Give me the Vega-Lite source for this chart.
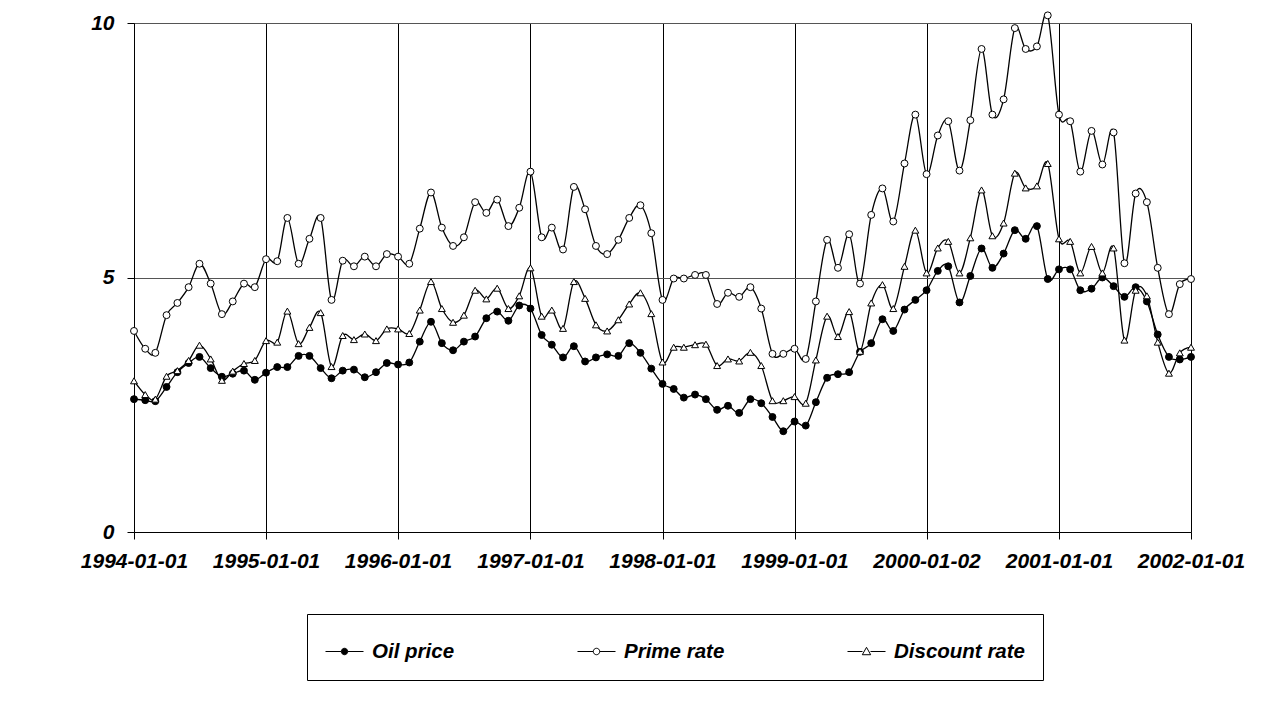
{
  "$schema": "https://vega.github.io/schema/vega-lite/v6.json",
  "width": 1057,
  "height": 509,
  "autosize": {"type": "none"},
  "padding": {"left": 134, "top": 23, "right": 83, "bottom": 190},
  "background": "white",
  "config": {"view": {"stroke": null}, "font": "Liberation Sans"},
  "data": {"values": [
    {"date": "1994-01-01", "Oil price": 2.61, "Prime rate": 3.95, "Discount rate": 2.97},
    {"date": "1994-02-01", "Oil price": 2.59, "Prime rate": 3.60, "Discount rate": 2.70},
    {"date": "1994-03-01", "Oil price": 2.57, "Prime rate": 3.52, "Discount rate": 2.61},
    {"date": "1994-04-01", "Oil price": 2.85, "Prime rate": 4.26, "Discount rate": 3.06},
    {"date": "1994-05-01", "Oil price": 3.14, "Prime rate": 4.50, "Discount rate": 3.17},
    {"date": "1994-06-01", "Oil price": 3.32, "Prime rate": 4.81, "Discount rate": 3.37},
    {"date": "1994-07-01", "Oil price": 3.44, "Prime rate": 5.27, "Discount rate": 3.67},
    {"date": "1994-08-01", "Oil price": 3.22, "Prime rate": 4.88, "Discount rate": 3.40},
    {"date": "1994-09-01", "Oil price": 3.05, "Prime rate": 4.28, "Discount rate": 2.98},
    {"date": "1994-10-01", "Oil price": 3.11, "Prime rate": 4.53, "Discount rate": 3.16},
    {"date": "1994-11-01", "Oil price": 3.17, "Prime rate": 4.88, "Discount rate": 3.31},
    {"date": "1994-12-01", "Oil price": 2.99, "Prime rate": 4.81, "Discount rate": 3.37},
    {"date": "1995-01-01", "Oil price": 3.13, "Prime rate": 5.36, "Discount rate": 3.76},
    {"date": "1995-02-01", "Oil price": 3.24, "Prime rate": 5.32, "Discount rate": 3.73},
    {"date": "1995-03-01", "Oil price": 3.24, "Prime rate": 6.17, "Discount rate": 4.34},
    {"date": "1995-04-01", "Oil price": 3.46, "Prime rate": 5.27, "Discount rate": 3.70},
    {"date": "1995-05-01", "Oil price": 3.46, "Prime rate": 5.76, "Discount rate": 4.02},
    {"date": "1995-06-01", "Oil price": 3.22, "Prime rate": 6.17, "Discount rate": 4.31},
    {"date": "1995-07-01", "Oil price": 3.02, "Prime rate": 4.56, "Discount rate": 3.25},
    {"date": "1995-08-01", "Oil price": 3.17, "Prime rate": 5.33, "Discount rate": 3.86},
    {"date": "1995-09-01", "Oil price": 3.19, "Prime rate": 5.22, "Discount rate": 3.78},
    {"date": "1995-10-01", "Oil price": 3.04, "Prime rate": 5.41, "Discount rate": 3.89},
    {"date": "1995-11-01", "Oil price": 3.14, "Prime rate": 5.22, "Discount rate": 3.76},
    {"date": "1995-12-01", "Oil price": 3.32, "Prime rate": 5.46, "Discount rate": 3.99},
    {"date": "1996-01-01", "Oil price": 3.29, "Prime rate": 5.41, "Discount rate": 3.99},
    {"date": "1996-02-01", "Oil price": 3.33, "Prime rate": 5.27, "Discount rate": 3.90},
    {"date": "1996-03-01", "Oil price": 3.74, "Prime rate": 5.96, "Discount rate": 4.36},
    {"date": "1996-04-01", "Oil price": 4.13, "Prime rate": 6.67, "Discount rate": 4.92},
    {"date": "1996-05-01", "Oil price": 3.71, "Prime rate": 5.98, "Discount rate": 4.39},
    {"date": "1996-06-01", "Oil price": 3.57, "Prime rate": 5.62, "Discount rate": 4.12},
    {"date": "1996-07-01", "Oil price": 3.74, "Prime rate": 5.79, "Discount rate": 4.26},
    {"date": "1996-08-01", "Oil price": 3.84, "Prime rate": 6.48, "Discount rate": 4.75},
    {"date": "1996-09-01", "Oil price": 4.20, "Prime rate": 6.27, "Discount rate": 4.58},
    {"date": "1996-10-01", "Oil price": 4.33, "Prime rate": 6.53, "Discount rate": 4.79},
    {"date": "1996-11-01", "Oil price": 4.15, "Prime rate": 6.01, "Discount rate": 4.39},
    {"date": "1996-12-01", "Oil price": 4.45, "Prime rate": 6.37, "Discount rate": 4.64},
    {"date": "1997-01-01", "Oil price": 4.39, "Prime rate": 7.08, "Discount rate": 5.19},
    {"date": "1997-02-01", "Oil price": 3.87, "Prime rate": 5.79, "Discount rate": 4.24},
    {"date": "1997-03-01", "Oil price": 3.68, "Prime rate": 5.98, "Discount rate": 4.36},
    {"date": "1997-04-01", "Oil price": 3.43, "Prime rate": 5.55, "Discount rate": 4.00},
    {"date": "1997-05-01", "Oil price": 3.65, "Prime rate": 6.78, "Discount rate": 4.92},
    {"date": "1997-06-01", "Oil price": 3.35, "Prime rate": 6.34, "Discount rate": 4.59},
    {"date": "1997-07-01", "Oil price": 3.43, "Prime rate": 5.62, "Discount rate": 4.07},
    {"date": "1997-08-01", "Oil price": 3.49, "Prime rate": 5.46, "Discount rate": 3.95},
    {"date": "1997-09-01", "Oil price": 3.46, "Prime rate": 5.74, "Discount rate": 4.17},
    {"date": "1997-10-01", "Oil price": 3.71, "Prime rate": 6.17, "Discount rate": 4.48},
    {"date": "1997-11-01", "Oil price": 3.52, "Prime rate": 6.42, "Discount rate": 4.70},
    {"date": "1997-12-01", "Oil price": 3.21, "Prime rate": 5.87, "Discount rate": 4.29},
    {"date": "1998-01-01", "Oil price": 2.91, "Prime rate": 4.56, "Discount rate": 3.34},
    {"date": "1998-02-01", "Oil price": 2.81, "Prime rate": 4.98, "Discount rate": 3.63},
    {"date": "1998-03-01", "Oil price": 2.64, "Prime rate": 4.98, "Discount rate": 3.63},
    {"date": "1998-04-01", "Oil price": 2.70, "Prime rate": 5.05, "Discount rate": 3.68},
    {"date": "1998-05-01", "Oil price": 2.61, "Prime rate": 5.05, "Discount rate": 3.69},
    {"date": "1998-06-01", "Oil price": 2.40, "Prime rate": 4.48, "Discount rate": 3.27},
    {"date": "1998-07-01", "Oil price": 2.48, "Prime rate": 4.70, "Discount rate": 3.40},
    {"date": "1998-08-01", "Oil price": 2.34, "Prime rate": 4.62, "Discount rate": 3.36},
    {"date": "1998-09-01", "Oil price": 2.61, "Prime rate": 4.81, "Discount rate": 3.53},
    {"date": "1998-10-01", "Oil price": 2.53, "Prime rate": 4.39, "Discount rate": 3.27},
    {"date": "1998-11-01", "Oil price": 2.26, "Prime rate": 3.50, "Discount rate": 2.58},
    {"date": "1998-12-01", "Oil price": 1.98, "Prime rate": 3.50, "Discount rate": 2.58},
    {"date": "1999-01-01", "Oil price": 2.17, "Prime rate": 3.60, "Discount rate": 2.66},
    {"date": "1999-02-01", "Oil price": 2.09, "Prime rate": 3.40, "Discount rate": 2.53},
    {"date": "1999-03-01", "Oil price": 2.55, "Prime rate": 4.53, "Discount rate": 3.38},
    {"date": "1999-04-01", "Oil price": 3.03, "Prime rate": 5.74, "Discount rate": 4.24},
    {"date": "1999-05-01", "Oil price": 3.10, "Prime rate": 5.19, "Discount rate": 3.84},
    {"date": "1999-06-01", "Oil price": 3.14, "Prime rate": 5.85, "Discount rate": 4.33},
    {"date": "1999-07-01", "Oil price": 3.54, "Prime rate": 4.88, "Discount rate": 3.55},
    {"date": "1999-08-01", "Oil price": 3.71, "Prime rate": 6.23, "Discount rate": 4.50},
    {"date": "1999-09-01", "Oil price": 4.18, "Prime rate": 6.75, "Discount rate": 4.86},
    {"date": "1999-10-01", "Oil price": 3.95, "Prime rate": 6.10, "Discount rate": 4.39},
    {"date": "1999-11-01", "Oil price": 4.37, "Prime rate": 7.24, "Discount rate": 5.22},
    {"date": "1999-12-01", "Oil price": 4.56, "Prime rate": 8.20, "Discount rate": 5.93},
    {"date": "2000-01-01", "Oil price": 4.75, "Prime rate": 7.03, "Discount rate": 5.09},
    {"date": "2000-02-01", "Oil price": 5.13, "Prime rate": 7.79, "Discount rate": 5.58},
    {"date": "2000-03-01", "Oil price": 5.22, "Prime rate": 8.07, "Discount rate": 5.71},
    {"date": "2000-04-01", "Oil price": 4.51, "Prime rate": 7.10, "Discount rate": 5.09},
    {"date": "2000-05-01", "Oil price": 5.03, "Prime rate": 8.09, "Discount rate": 5.78},
    {"date": "2000-06-01", "Oil price": 5.57, "Prime rate": 9.49, "Discount rate": 6.72},
    {"date": "2000-07-01", "Oil price": 5.19, "Prime rate": 8.20, "Discount rate": 5.82},
    {"date": "2000-08-01", "Oil price": 5.47, "Prime rate": 8.50, "Discount rate": 6.07},
    {"date": "2000-09-01", "Oil price": 5.93, "Prime rate": 9.90, "Discount rate": 7.05},
    {"date": "2000-10-01", "Oil price": 5.76, "Prime rate": 9.49, "Discount rate": 6.76},
    {"date": "2000-11-01", "Oil price": 6.01, "Prime rate": 9.54, "Discount rate": 6.80},
    {"date": "2000-12-01", "Oil price": 4.97, "Prime rate": 10.15, "Discount rate": 7.24},
    {"date": "2001-01-01", "Oil price": 5.16, "Prime rate": 8.20, "Discount rate": 5.76},
    {"date": "2001-02-01", "Oil price": 5.16, "Prime rate": 8.07, "Discount rate": 5.71},
    {"date": "2001-03-01", "Oil price": 4.75, "Prime rate": 7.08, "Discount rate": 5.09},
    {"date": "2001-04-01", "Oil price": 4.78, "Prime rate": 7.88, "Discount rate": 5.61},
    {"date": "2001-05-01", "Oil price": 5.00, "Prime rate": 7.22, "Discount rate": 5.09},
    {"date": "2001-06-01", "Oil price": 4.83, "Prime rate": 7.85, "Discount rate": 5.58},
    {"date": "2001-07-01", "Oil price": 4.62, "Prime rate": 5.28, "Discount rate": 3.77},
    {"date": "2001-08-01", "Oil price": 4.81, "Prime rate": 6.65, "Discount rate": 4.75},
    {"date": "2001-09-01", "Oil price": 4.53, "Prime rate": 6.48, "Discount rate": 4.64},
    {"date": "2001-10-01", "Oil price": 3.88, "Prime rate": 5.19, "Discount rate": 3.73},
    {"date": "2001-11-01", "Oil price": 3.44, "Prime rate": 4.28, "Discount rate": 3.12},
    {"date": "2001-12-01", "Oil price": 3.39, "Prime rate": 4.87, "Discount rate": 3.52},
    {"date": "2002-01-01", "Oil price": 3.44, "Prime rate": 4.97, "Discount rate": 3.63}
  ]},
  "transform": [
    {"fold": ["Oil price", "Prime rate", "Discount rate"], "as": ["series", "value"]}
  ],
  "encoding": {
    "x": {
      "field": "date",
      "type": "temporal",
      "scale": {
        "type": "utc",
        "domain": [
          {"year": 1994, "month": 1, "date": 1, "utc": true},
          {"year": 2002, "month": 1, "date": 1, "utc": true}
        ]
      },
      "axis": {
        "title": null,
        "values": [
          {"year": 1994, "month": 1, "date": 1, "utc": true},
          {"year": 1995, "month": 1, "date": 1, "utc": true},
          {"year": 1996, "month": 1, "date": 1, "utc": true},
          {"year": 1997, "month": 1, "date": 1, "utc": true},
          {"year": 1998, "month": 1, "date": 1, "utc": true},
          {"year": 1999, "month": 1, "date": 1, "utc": true},
          {"year": 2000, "month": 1, "date": 1, "utc": true},
          {"year": 2001, "month": 1, "date": 1, "utc": true},
          {"year": 2002, "month": 1, "date": 1, "utc": true}
        ],
        "labelExpr": "utcFormat(datum.value, '%Y-%m-%d') == '2000-01-01' ? '2000-01-02' : utcFormat(datum.value, '%Y-%m-%d')",
        "domain": true,
        "domainColor": "black",
        "domainWidth": 1,
        "ticks": true,
        "tickColor": "black",
        "tickSize": 7,
        "grid": true,
        "gridColor": "black",
        "gridOpacity": 1,
        "gridWidth": 1,
        "labelFont": "Liberation Sans",
        "labelFontSize": 21,
        "labelFontWeight": "bold",
        "labelFontStyle": "italic",
        "labelColor": "black",
        "labelPadding": 11,
        "labelAngle": 0,
        "labelOverlap": false,
        "labelFlush": false
      }
    },
    "y": {
      "field": "value",
      "type": "quantitative",
      "scale": {"domain": [0, 10], "nice": false, "zero": true},
      "axis": {
        "title": null,
        "values": [0, 5, 10],
        "domain": true,
        "domainColor": "black",
        "ticks": true,
        "tickColor": "black",
        "tickSize": 7,
        "grid": true,
        "gridColor": "#555555",
        "gridOpacity": 1,
        "labelFont": "Liberation Sans",
        "labelFontSize": 21,
        "labelFontWeight": "bold",
        "labelFontStyle": "italic",
        "labelColor": "black",
        "labelPadding": 13
      }
    }
  },
  "resolve": {"scale": {"shape": "independent", "fill": "independent", "size": "independent", "stroke": "independent"}},
  "layer": [
    {
      "mark": {"type": "line", "interpolate": "cardinal", "stroke": "black", "strokeWidth": 1.3, "clip": false},
      "encoding": {"detail": {"field": "series", "type": "nominal"}}
    },
    {
      "mark": {"type": "point", "filled": true, "stroke": "black", "strokeWidth": 1, "opacity": 1},
      "encoding": {
        "shape": {
          "field": "series",
          "type": "nominal",
          "scale": {"domain": ["Oil price", "Prime rate", "Discount rate"], "range": ["circle", "circle", "triangle-up"]},
          "legend": null
        },
        "fill": {
          "field": "series",
          "type": "nominal",
          "scale": {"domain": ["Oil price", "Prime rate", "Discount rate"], "range": ["black", "white", "white"]},
          "legend": null
        },
        "size": {
          "field": "series",
          "type": "ordinal",
          "scale": {"domain": ["Oil price", "Prime rate", "Discount rate"], "range": [48, 48, 70]},
          "legend": null
        }
      }
    },
    {
      "transform": [{"filter": "false"}],
      "mark": {"type": "point", "filled": true, "strokeWidth": 1, "opacity": 1},
      "encoding": {
        "shape": {
          "field": "series",
          "type": "nominal",
          "scale": {
            "domain": ["Oil price", "Prime rate", "Discount rate"],
            "range": [
              "M-1,0H-0.17M0.17,0H1M-0.17,0A0.17,0.17,0,1,0,0.17,0A0.17,0.17,0,1,0,-0.17,0Z",
              "M-1,0H-0.17M0.17,0H1M-0.17,0A0.17,0.17,0,1,0,0.17,0A0.17,0.17,0,1,0,-0.17,0Z",
              "M-1,0H-0.21M0.21,0H1M0,-0.22L0.22,0.17L-0.22,0.17Z"
            ]
          },
          "legend": {
            "title": null,
            "orient": "none",
            "legendX": 173,
            "legendY": 591,
            "direction": "horizontal",
            "columns": 3,
            "columnPadding": 120,
            "padding": 18,
            "strokeColor": "black",
            "fillColor": "white",
            "labelFont": "Liberation Sans",
            "labelFontSize": 20.5,
            "labelFontWeight": "bold",
            "labelFontStyle": "italic",
            "labelColor": "black",
            "labelOffset": 8,
            "symbolSize": 1444,
            "symbolStrokeWidth": 1
          }
        },
        "fill": {
          "field": "series",
          "type": "nominal",
          "scale": {"domain": ["Oil price", "Prime rate", "Discount rate"], "range": ["black", "white", "white"]},
          "legend": {
            "title": null,
            "orient": "none",
            "legendX": 173,
            "legendY": 591,
            "direction": "horizontal",
            "columns": 3,
            "columnPadding": 120,
            "padding": 18,
            "strokeColor": "black",
            "fillColor": "white",
            "labelFont": "Liberation Sans",
            "labelFontSize": 20.5,
            "labelFontWeight": "bold",
            "labelFontStyle": "italic",
            "labelColor": "black",
            "labelOffset": 8,
            "symbolSize": 1444,
            "symbolStrokeWidth": 1
          }
        },
        "stroke": {
          "field": "series",
          "type": "nominal",
          "scale": {"domain": ["Oil price", "Prime rate", "Discount rate"], "range": ["black", "black", "black"]},
          "legend": {
            "title": null,
            "orient": "none",
            "legendX": 173,
            "legendY": 591,
            "direction": "horizontal",
            "columns": 3,
            "columnPadding": 120,
            "padding": 18,
            "strokeColor": "black",
            "fillColor": "white",
            "labelFont": "Liberation Sans",
            "labelFontSize": 20.5,
            "labelFontWeight": "bold",
            "labelFontStyle": "italic",
            "labelColor": "black",
            "labelOffset": 8,
            "symbolSize": 1444,
            "symbolStrokeWidth": 1
          }
        }
      }
    }
  ]
}
